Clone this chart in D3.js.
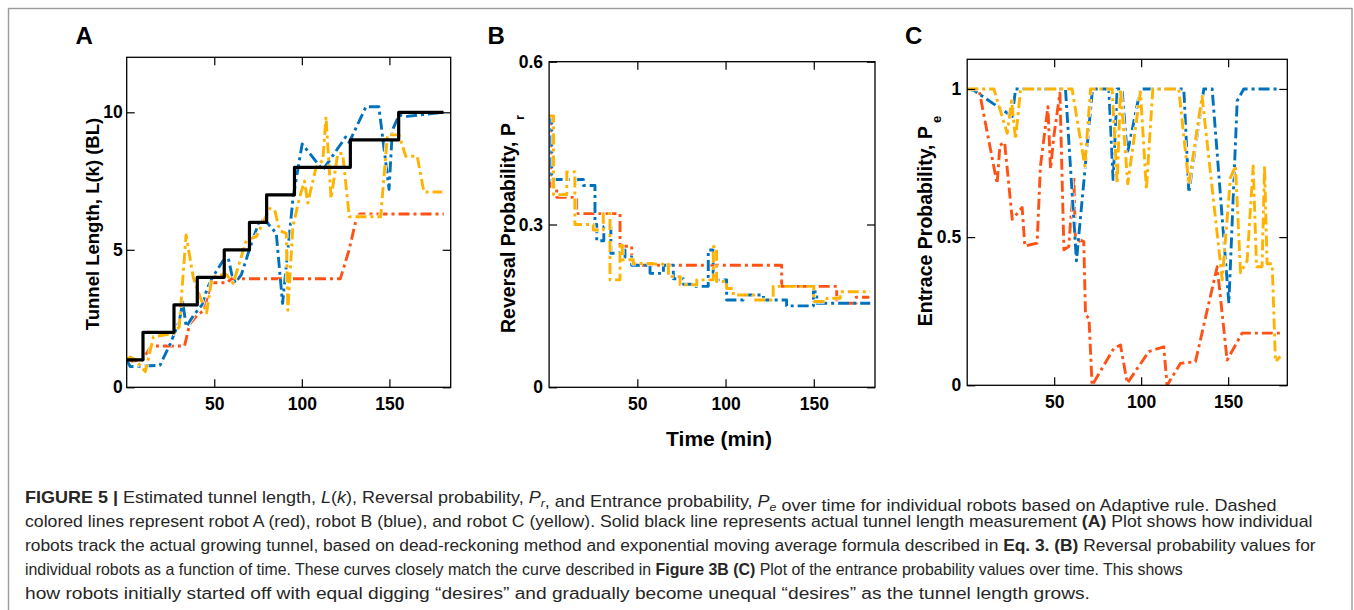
<!DOCTYPE html>
<html>
<head>
<meta charset="utf-8">
<script src="https://cdn.jsdelivr.net/npm/d3@7/dist/d3.min.js"></script>
<style>
  html, body { margin: 0; padding: 0; background: #fff; }
  svg { display: block; }
  text { font-family: "Liberation Sans", Arial, Helvetica, sans-serif; }
</style>
</head>
<body>
<svg id="fig" width="1354" height="610"></svg>
<script>
// ---------- Panel A: tunnel length L(k) in body lengths ----------
const lenActualTime = [0, 9.3, 27, 40.3, 55.7, 70.1, 79.9, 95.8, 127.7, 155.3, 180.7];
const lenActual     = [1, 2, 3, 4, 5, 6, 7, 8, 9, 10, 10];

const lenRedTime = [0, 3, 9, 14, 33, 36, 40, 44, 47, 48, 57, 60, 122, 127, 131, 133, 181];
const lenRed     = [1.0, 0.95, 1.0, 1.5, 1.5, 2.3, 2.6, 2.8, 3.5, 3.8, 3.8, 3.95, 3.95, 5.0, 6.1, 6.3, 6.3];

const lenBlueTime = [0, 2, 19, 25, 30, 32, 34, 38, 43, 46, 49, 55, 58, 60, 62, 65.5, 70, 76, 80, 85.4, 89, 95, 100.2, 112, 125, 127, 136.6, 144, 149.8, 151.7, 155.5, 160, 181];
const lenBlue     = [1.0, 0.75, 0.8, 1.6, 2.4, 3.1, 2.2, 2.6, 3.0, 3.6, 4.0, 4.6, 4.7, 4.1, 3.8, 4.1, 5.0, 6.1, 6.0, 5.6, 3.05, 6.9, 8.85, 7.9, 9.1, 8.9, 10.2, 10.2, 7.2, 9.35, 9.9, 9.85, 10.0];

const lenYellowTime = [0, 2, 5, 10.6, 15.3, 26.7, 30, 33.9, 38, 41.8, 45.6, 48.5, 51.3, 57, 60.8, 68.4, 74, 81.6, 84.5, 87.3, 91.1, 92, 94.9, 98.7, 101.5, 103.4, 108.1, 112, 113.8, 116.7, 120.5, 123.3, 127.1, 145, 148.9, 155.5, 159.3, 165.9, 169.7, 180.1];
const lenYellow     = [1.0, 1.1, 1.0, 0.57, 1.84, 1.95, 2.2, 5.54, 4.0, 3.3, 2.7, 3.9, 4.08, 4.1, 3.78, 5.36, 5.48, 6.5, 6.45, 5.7, 5.6, 2.8, 5.84, 6.9, 7.5, 6.7, 8.0, 8.26, 9.84, 6.87, 8.5, 8.5, 6.2, 6.2, 9.18, 9.18, 8.4, 8.4, 7.1, 7.1];

// ---------- Panel B: reversal probability Pr (stairs) ----------
const revRedTime = [0, 1, 4.3, 15.6, 40.2, 46.8, 47.7, 131.8, 163, 174, 181.5];
const revRed     = [0.50, 0.37, 0.35, 0.32, 0.26, 0.235, 0.225, 0.186, 0.155, 0.166, 0.166];

const revBlueTime = [0, 1.5, 19.4, 26, 27, 31, 35, 40, 43, 46.8, 57.2, 64.8, 70.4, 76, 81.8, 90.2, 93, 100.6, 110, 121.5, 134.6, 149.8, 151.7, 182];
const revBlue     = [0.50, 0.383, 0.372, 0.30, 0.27, 0.296, 0.247, 0.253, 0.24, 0.225, 0.21, 0.225, 0.20, 0.19, 0.186, 0.253, 0.198, 0.161, 0.17, 0.161, 0.15, 0.176, 0.155, 0.155];

const revYellowTime = [0, 2.5, 10, 14.6, 25, 30.7, 34.5, 40.2, 41.5, 47.7, 59, 67.6, 74.2, 83.7, 93.1, 94.9, 100.6, 104.4, 116, 127, 150, 157.5, 165, 182];
const revYellow     = [0.50, 0.355, 0.397, 0.30, 0.29, 0.32, 0.198, 0.265, 0.235, 0.228, 0.227, 0.204, 0.189, 0.198, 0.259, 0.195, 0.182, 0.17, 0.161, 0.186, 0.158, 0.164, 0.176, 0.176];

// ---------- Panel C: entrance probability Pe ----------
const entRedTime = [0, 6.7, 17.2, 18.8, 21.5, 25.9, 31.6, 33.1, 40.2, 42.1, 46.4, 47.9, 49.8, 53.3, 55.6, 58.4, 61.3, 62.3, 65.1, 67, 68, 70, 71.8, 84.3, 88.1, 92, 104.4, 113, 114.9, 122.6, 131.2, 143.7, 149.4, 158, 180];
const entRed     = [1.0, 1.0, 0.68, 0.81, 0.82, 0.56, 0.60, 0.47, 0.48, 0.74, 0.94, 0.73, 0.84, 0.986, 0.457, 0.468, 0.705, 0.47, 0.49, 0.485, 0.238, 0.226, 0.0, 0.125, 0.136, 0.007, 0.114, 0.13, 0.0, 0.074, 0.08, 0.40, 0.085, 0.176, 0.176];

const entBlueTime = [0, 3.8, 25.9, 27.8, 56.5, 62.8, 71.8, 72.8, 81.4, 83.9, 86.2, 89, 92, 99.6, 124.5, 127.4, 136, 140.8, 150.4, 155.2, 159, 180];
const entBlue     = [1.0, 0.995, 0.907, 1.0, 1.0, 0.42, 0.986, 1.0, 1.0, 0.69, 1.0, 1.0, 0.78, 1.0, 1.0, 0.65, 1.0, 1.0, 0.277, 0.96, 1.0, 1.0];

const entYellowTime = [0, 15.3, 23, 25.5, 27.8, 30.7, 60.3, 67.6, 70.9, 83.3, 86.2, 88.1, 92.3, 99.6, 103, 106.7, 121.6, 127.4, 135, 146.6, 151.3, 154.2, 157.1, 160.9, 164.4, 166.3, 169.5, 170.9, 172.4, 175.3, 177.2, 180];
const entYellow     = [1.0, 1.0, 0.85, 0.96, 0.83, 1.0, 1.0, 0.74, 1.0, 1.0, 0.68, 1.0, 0.68, 0.99, 0.66, 1.0, 1.0, 0.68, 0.975, 0.356, 0.70, 0.74, 0.38, 0.42, 0.74, 0.40, 0.40, 0.74, 0.41, 0.41, 0.08, 0.097];

// ---------- tick labels ----------
const timeTicks = [50, 100, 150];
const lenTicks  = [0, 5, 10];
const revTicks  = [0, 0.3, 0.6];
const entTicks  = [0, 0.5, 1];

const RED = "#FF5214", BLUE = "#0072BD", YELLOW = "#FFB300";
const DASH = "11,4,3,4";

const svg = d3.select("#fig");
svg.append("rect").attr("width", 1354).attr("height", 610).attr("fill", "#fff");

// outer frame of the figure
svg.append("rect")
  .attr("x", 8.5).attr("y", 8.5).attr("width", 1343.5).attr("height", 640)
  .attr("fill", "none").attr("stroke", "#9b9b9b").attr("stroke-width", 1.4);

const zip = (t, v) => t.map((d, i) => [d, v[i]]);

// expand a step series into explicit stair corners
const stairs = (t, v) => ({
  t: t.flatMap((d, i) => i ? [d, d] : [d]),
  v: v.flatMap((d, i) => i ? [v[i - 1], d] : [d])
});

function panel(cfg) {
  const x = d3.scaleLinear().domain(cfg.xDomain).range([cfg.left, cfg.right]);
  const y = d3.scaleLinear().domain(cfg.yDomain).range([cfg.bottom, cfg.top]);
  const g = svg.append("g");

  const clipId = "clip-" + cfg.name;
  g.append("clipPath").attr("id", clipId).append("rect")
    .attr("x", cfg.left).attr("y", cfg.top)
    .attr("width", cfg.right - cfg.left).attr("height", cfg.bottom - cfg.top);

  const line = d3.line().x(d => x(d[0])).y(d => y(d[1])).curve(cfg.curve);
  const plot = g.append("g").attr("clip-path", `url(#${clipId})`);
  cfg.series.forEach(s => {
    const d = line(zip(s.t, s.v));
    if (s.dash) {
      // thin white casing around each dash
      plot.append("path")
        .attr("d", d).attr("fill", "none").attr("stroke", "#fff")
        .attr("stroke-width", 4.6).attr("stroke-dasharray", s.dash)
        .attr("stroke-linejoin", "round").attr("stroke-opacity", 0.85);
    }
    plot.append("path")
      .attr("d", d)
      .attr("fill", "none")
      .attr("stroke", s.color)
      .attr("stroke-width", s.width || 2.9)
      .attr("stroke-dasharray", s.dash || null)
      .attr("stroke-linejoin", "round");
  });

  const fmt = d => String(d);
  const style = sel => {
    sel.select(".domain").remove();
    sel.selectAll(".tick line").attr("stroke", "#000").attr("stroke-width", 1.2);
    sel.selectAll(".tick text").attr("fill", "#000")
      .style("font-size", "17.5px").style("font-weight", "bold")
      .style("font-family", '"Liberation Sans", Arial, sans-serif');
  };
  g.append("g").attr("transform", `translate(0,${cfg.bottom})`)
    .call(d3.axisBottom(x).tickValues(timeTicks).tickSize(-8).tickPadding(10).tickFormat(fmt)).call(style);
  g.append("g").attr("transform", `translate(0,${cfg.top})`)
    .call(d3.axisTop(x).tickValues(timeTicks).tickSize(-8).tickFormat("")).call(style);
  g.append("g").attr("transform", `translate(${cfg.left},0)`)
    .call(d3.axisLeft(y).tickValues(cfg.yTicks).tickSize(-8).tickPadding(cfg.yPad).tickFormat(fmt)).call(style);
  g.append("g").attr("transform", `translate(${cfg.right},0)`)
    .call(d3.axisRight(y).tickValues(cfg.yTicks).tickSize(-8).tickFormat("")).call(style);

  g.append("rect")
    .attr("x", cfg.left).attr("y", cfg.top)
    .attr("width", cfg.right - cfg.left).attr("height", cfg.bottom - cfg.top)
    .attr("fill", "none").attr("stroke", "#000").attr("stroke-width", 1.3);

  // y-axis title, rotated, optional subscript
  const yt = g.append("text")
    .attr("transform", `translate(${cfg.labelX},${cfg.labelY}) rotate(-90)`)
    .attr("text-anchor", "middle")
    .style("font-size", cfg.labelSize + "px").style("font-weight", "bold").attr("fill", "#000");
  yt.append("tspan").text(cfg.label);
  if (cfg.sub) {
    yt.append("tspan").attr("dx", 3).attr("dy", 9).style("font-size", "13px").text(cfg.sub);
  }

  // panel letter
  g.append("text").attr("x", cfg.letterX).attr("y", 43.5)
    .style("font-size", "24px").style("font-weight", "bold").attr("fill", "#000")
    .text(cfg.name);
  return { x, y };
}

const actualSteps = stairs(lenActualTime, lenActual);

panel({
  name: "A", left: 126.7, right: 450.7, top: 57.3, bottom: 387.3,
  xDomain: [0, 185], yDomain: [0, 12], yTicks: lenTicks, yPad: 4,
  curve: d3.curveLinear,
  label: "Tunnel Length, L(k) (BL)", labelX: 98.5, labelY: 224, labelSize: 18.5,
  letterX: 75.5,
  series: [
    { t: lenRedTime, v: lenRed, color: RED, dash: DASH },
    { t: lenBlueTime, v: lenBlue, color: BLUE, dash: DASH },
    { t: lenYellowTime, v: lenYellow, color: YELLOW, dash: DASH },
    { t: actualSteps.t, v: actualSteps.v, color: "#000", width: 3.2 }
  ]
});

panel({
  name: "B", left: 549.1, right: 875, top: 61.7, bottom: 387.3,
  xDomain: [0, 184.7], yDomain: [0, 0.6], yTicks: revTicks, yPad: 6,
  curve: d3.curveStepAfter,
  label: "Reversal Probability, P", sub: "r", labelX: 515, labelY: 224, labelSize: 19.5,
  letterX: 487.5,
  series: [
    { t: revRedTime, v: revRed, color: RED, dash: DASH },
    { t: revBlueTime, v: revBlue, color: BLUE, dash: DASH },
    { t: revYellowTime, v: revYellow, color: YELLOW, dash: DASH }
  ]
});

panel({
  name: "C", left: 967.2, right: 1287.3, top: 59.3, bottom: 385.3,
  xDomain: [0, 184], yDomain: [0, 1.1], yTicks: entTicks, yPad: 6,
  curve: d3.curveLinear,
  label: "Entrace Probability, P", sub: "e", labelX: 932, labelY: 221, labelSize: 19.5,
  letterX: 905,
  series: [
    { t: entRedTime, v: entRed, color: RED, dash: DASH },
    { t: entBlueTime, v: entBlue, color: BLUE, dash: DASH },
    { t: entYellowTime, v: entYellow, color: YELLOW, dash: DASH }
  ]
});

// shared x-axis title
svg.append("text").attr("x", 719).attr("y", 446).attr("text-anchor", "middle")
  .style("font-size", "21px").style("font-weight", "bold").attr("fill", "#000")
  .text("Time (min)");

// ---------- caption ----------
// each line is a list of [text, style] runs; style: b = bold, i = italic, s = subscript
const captionLines = [
  [["FIGURE 5 | ", "b"], ["Estimated tunnel length, "], ["L", "i"], ["("], ["k", "i"], ["), Reversal probability, "], ["P", "i"], ["r", "is"], [", and Entrance probability, "], ["P", "i"], ["e", "is"], [" over time for individual robots based on Adaptive rule. Dashed"]],
  [["colored lines represent robot A (red), robot B (blue), and robot C (yellow). Solid black line represents actual tunnel length measurement "], ["(A)", "b"], [" Plot shows how individual"]],
  [["robots track the actual growing tunnel, based on dead-reckoning method and exponential moving average formula described in "], ["Eq. 3. (B)", "b"], [" Reversal probability values for"]],
  [["individual robots as a function of time. These curves closely match the curve described in "], ["Figure 3B (C)", "b"], [" Plot of the entrance probability values over time. This shows"]],
  [["how robots initially started off with equal digging \u201cdesires\u201d and gradually become unequal \u201cdesires\u201d as the tunnel length grows."]]
];
// set width of each caption line
const captionWidths = [1253, 1288, 1291, 1159, 1066];

const cap = svg.append("g");
captionLines.forEach((runs, li) => {
  const t = cap.append("text").attr("x", 0).attr("y", 0)
    .style("font-size", "16px").attr("fill", "#262626");
  runs.forEach(([str, st = ""]) => {
    const ts = t.append("tspan").text(str);
    if (st.includes("b")) ts.style("font-weight", "bold");
    if (st.includes("i")) ts.style("font-style", "italic");
    if (st.includes("s")) {
      ts.style("font-size", "11px").attr("dy", 4);
      t.append("tspan").attr("dy", -4).text("");
    }
  });
  const natural = t.node().getComputedTextLength();
  const sx = captionWidths[li] / natural;
  t.attr("transform", `translate(25,${502.5 + li * 24}) scale(${sx},1)`);
});
</script>
</body>
</html>
